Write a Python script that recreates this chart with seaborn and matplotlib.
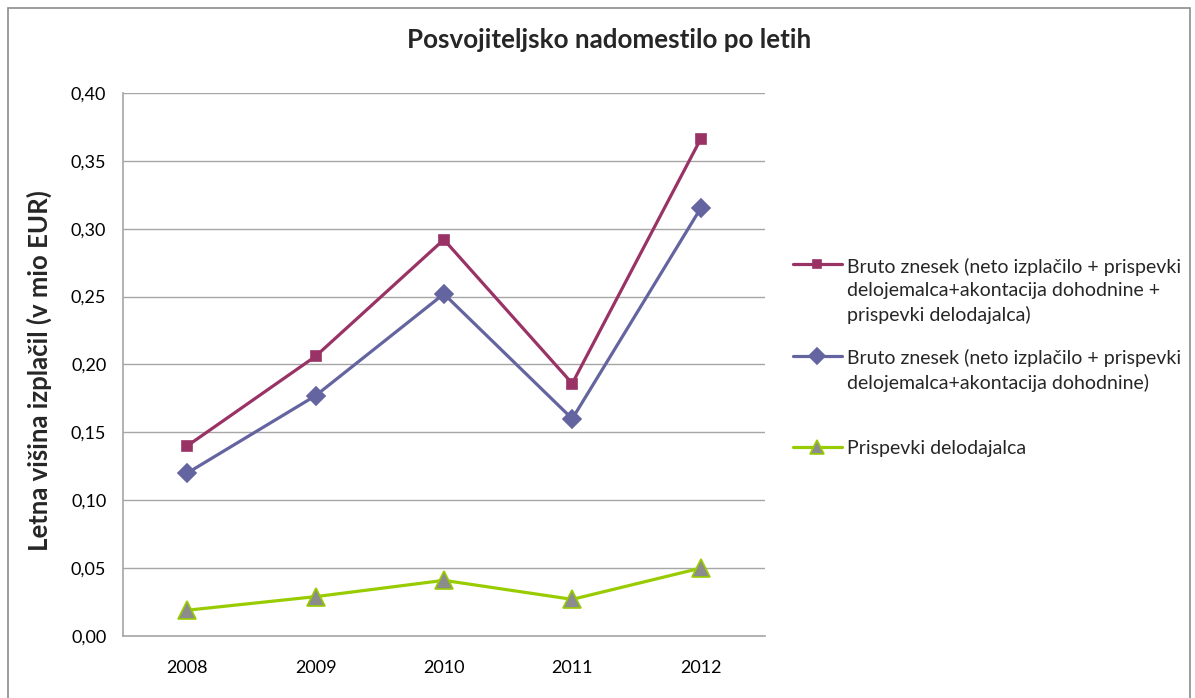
import matplotlib
matplotlib.use('Agg')
import matplotlib.pyplot as plt
import seaborn as sns
import pandas as pd
from matplotlib.patches import Rectangle
from matplotlib.ticker import FuncFormatter

years = ['2008', '2009', '2010', '2011', '2012']
bruto_all = [0.140, 0.206, 0.292, 0.186, 0.366]
bruto_neto = [0.120, 0.177, 0.252, 0.160, 0.315]
prispevki = [0.019, 0.029, 0.041, 0.027, 0.050]

labels = [
    'Bruto znesek (neto izplačilo + prispevki\ndelojemalca+akontacija dohodnine +\nprispevki delodajalca)',
    'Bruto znesek (neto izplačilo + prispevki\ndelojemalca+akontacija dohodnine)',
    'Prispevki delodajalca',
]

sns.set_style('white')
plt.rcParams['font.family'] = ['Lato', 'DejaVu Sans']

fig = plt.figure(figsize=(11.95, 6.98), dpi=100)
ax = fig.add_axes([0.1029, 0.0888, 0.5371, 0.778])

styles = [
    (bruto_all, '#993366', 's', '#993366', '#993366', 7.2),
    (bruto_neto, '#6464A0', 'D', '#6464A0', '#6464A0', 9),
    (prispevki, '#99CC00', '^', '#8C8C8C', '#99CC00', 12.5),
]
for (vals, col, mk, fc, ec, ms), lab in zip(styles, labels):
    df = pd.DataFrame({'leto': years, 'vrednost': vals})
    sns.lineplot(data=df, x='leto', y='vrednost', ax=ax, color=col, lw=2.3,
                 marker=mk, markersize=ms, markerfacecolor=fc,
                 markeredgecolor=ec, markeredgewidth=1.2, label=lab)

ax.set_xlim(-0.5, 4.5)
ax.set_ylim(0, 0.40)
ax.set_yticks([0.0, 0.05, 0.10, 0.15, 0.20, 0.25, 0.30, 0.35, 0.40])
ax.yaxis.set_major_formatter(FuncFormatter(lambda v, p: f'{v:.2f}'.replace('.', ',')))
ax.grid(axis='y', color='#A6A6A6', lw=1)
ax.set_axisbelow(True)
for s in ['top', 'right']:
    ax.spines[s].set_visible(False)
for s in ['left', 'bottom']:
    ax.spines[s].set_color('#A6A6A6')
    ax.spines[s].set_linewidth(1.2)
ax.tick_params(axis='both', labelsize=13, colors='black', length=0)
ax.tick_params(axis='y', pad=12)
ax.tick_params(axis='x', pad=17)
ax.set_xlabel('')
ax.set_ylabel('Letna višina izplačil (v mio EUR)', fontsize=18.5, fontweight='bold')
ax.yaxis.set_label_coords(-0.111, 0.488)

fig.text(0.5096, 0.943, 'Posvojiteljsko nadomestilo po letih', ha='center', va='center',
         fontsize=18.7, fontweight='bold')

ax.legend_.remove()
h, l = ax.get_legend_handles_labels()
# Excel-style legend: entries spread out, handle next to first text line
tops = [0.631, 0.500, 0.370]
for hi, li, y in zip(h, l, tops):
    leg = fig.legend([hi], [li], loc='upper left', bbox_to_anchor=(0.6636, y),
                     frameon=False, fontsize=14, handlelength=2.5, handletextpad=0.3,
                     borderpad=0, borderaxespad=0, markerscale=0.85)
    for t in leg.get_texts():
        t.set_linespacing(1.45)
    for col in leg._legend_handle_box.get_children():
        for row in col.get_children():
            row.align = 'top'

fig.patches.append(Rectangle((0.007, -0.01), 0.989, 0.998, transform=fig.transFigure,
                             fill=False, edgecolor='#8C8C8C', lw=1.2))

fig.savefig('out.png', dpi=100)
